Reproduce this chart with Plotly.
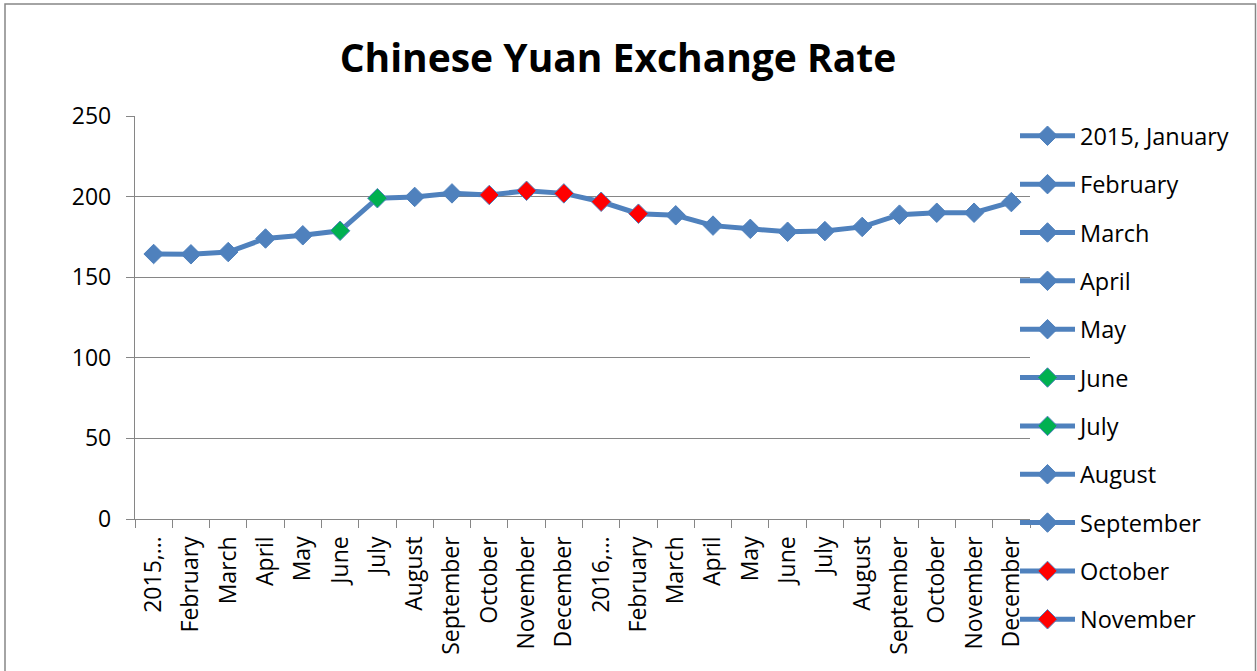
import plotly.graph_objects as go

# ---- data ----
categories = ["2015, January", "February", "March", "April", "May", "June",
              "July", "August", "September", "October", "November", "December",
              "2016, January", "February", "March", "April", "May", "June",
              "July", "August", "September", "October", "November", "December"]
values = [164.4, 164.2, 165.6, 174.0, 176.0, 178.8,
          199.0, 199.8, 202.0, 201.0, 203.6, 202.0,
          196.8, 189.4, 188.4, 182.0, 180.0, 178.2,
          178.6, 181.2, 188.8, 190.0, 190.0, 196.6]
tick_labels = [c.split(",")[0] + ",…" if "," in c else c for c in categories]
highlight = {5: "green", 6: "green", 9: "red", 10: "red", 11: "red", 12: "red", 13: "red"}
legend_visible = 11

BLUE = "#4F81BD"
COLORS = {"green": "#00B050", "red": "#FF0000"}
FONT = "Open Sans"

xs = list(range(len(categories)))
fig = go.Figure()
fig.add_trace(go.Scatter(x=xs, y=values, mode="lines",
                         line=dict(color=BLUE, width=5), showlegend=False,
                         hoverinfo="skip"))
for i, (c, v) in enumerate(zip(categories, values)):
    col = COLORS.get(highlight.get(i), BLUE)
    fig.add_trace(go.Scatter(
        x=[i], y=[v], mode="lines+markers", name=c,
        legendgroup=f"g{i}", showlegend=i < legend_visible,
        line=dict(color=BLUE, width=5),
        marker=dict(symbol="diamond", size=15, color=col,
                    line=dict(color=BLUE, width=1))))

L, R, T, B = 135, 227, 116, 152
W, H = 1257, 671
pw, ph = W - L - R, H - T - B

def px_x(p):
    return (p - L) / pw

def px_y(p):
    return (H - B - p) / ph

fig.update_layout(
    width=W, height=H,
    margin=dict(l=L, r=R, t=T, b=B, autoexpand=False),
    paper_bgcolor="white", plot_bgcolor="white",
    font=dict(family=FONT, size=23, color="black"),
    title=dict(text="<b>Chinese Yuan Exchange Rate</b>",
               font=dict(family=FONT, size=39, color="black"),
               x=618 / W, xanchor="center", xref="container",
               y=1 - 58 / H, yanchor="middle", yref="container"),
    xaxis=dict(range=[-0.5, len(categories) - 0.5], tickmode="array",
               tickvals=xs, ticktext=tick_labels, tickangle=-90,
               ticks="", showgrid=False, zeroline=False,
               showline=True, linecolor="#868686", linewidth=1.3,
               ticklabelstandoff=7,
               minor=dict(tickmode="linear", tick0=-0.5, dtick=1,
                          ticks="outside", ticklen=8, tickcolor="#868686",
                          tickwidth=1.3, showgrid=False)),
    yaxis=dict(range=[0, 250], tickmode="linear", tick0=0, dtick=50,
               ticks="outside", ticklen=8, tickcolor="#868686", tickwidth=1.3,
               showgrid=True, gridcolor="#868686", gridwidth=1.3,
               zeroline=False, showline=True, linecolor="#868686",
               linewidth=1.3, ticklabelstandoff=10),
    legend=dict(x=px_x(1015), xanchor="left", y=px_y(114), yanchor="top",
                bgcolor="rgba(0,0,0,0)", itemwidth=55, tracegroupgap=14.8,
                maxheight=700,
                font=dict(family=FONT, size=23.5, color="black")),
    shapes=[dict(type="rect", xref="paper", yref="paper",
                 x0=px_x(5), x1=px_x(1255.5), y0=px_y(700), y1=px_y(4),
                 line=dict(color="#868686", width=1.5), layer="above")],
)

fig.write_html("out.html", config={"displayModeBar": False},
               post_script="document.body.style.margin='0';"
                           "document.body.style.overflow='hidden';")
